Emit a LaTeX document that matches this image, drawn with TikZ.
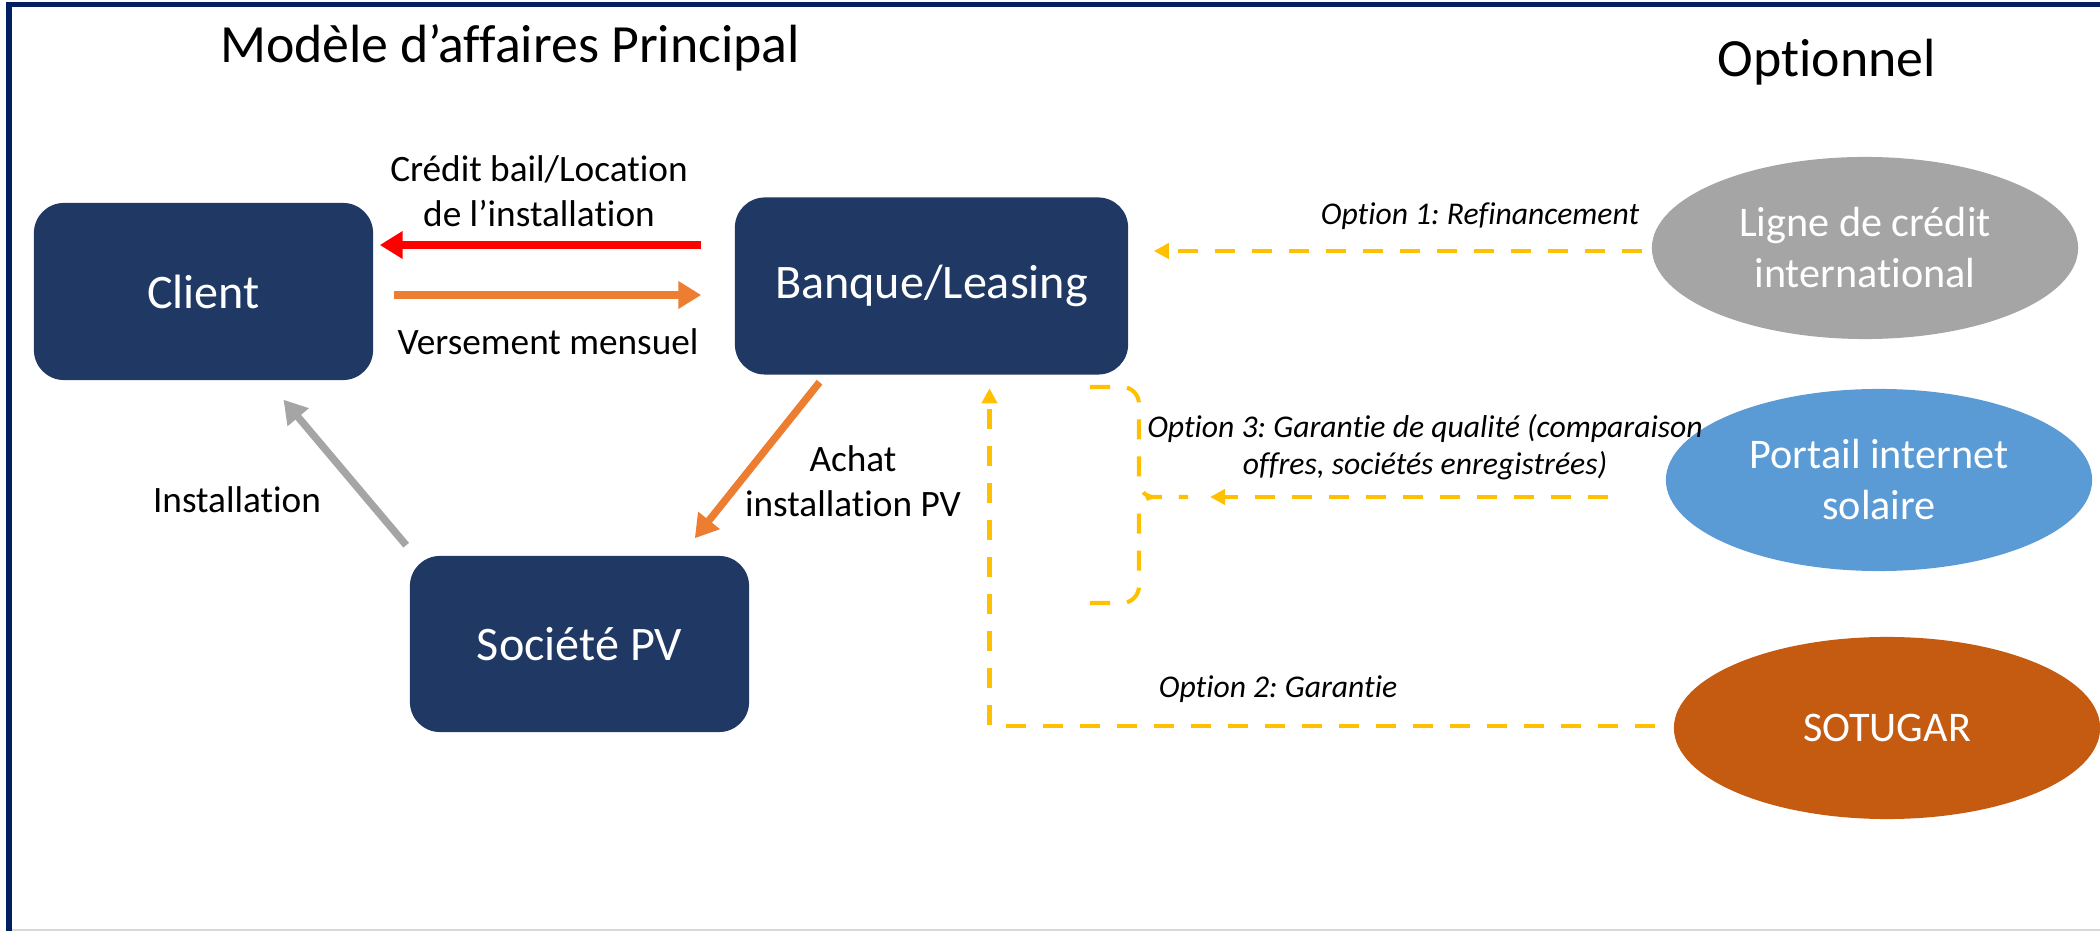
\documentclass[tikz,border=0pt]{standalone}
\usepackage{fontspec}
\setmainfont{Carlito}[Ligatures=NoCommon]
\usepackage{xcolor}
\usetikzlibrary{arrows.meta,calc,shapes.geometric}
\definecolor{boxblue}{HTML}{203864}
\definecolor{framenavy}{HTML}{002060}
\definecolor{credgray}{HTML}{A5A5A5}
\definecolor{portalblue}{HTML}{5B9BD5}
\definecolor{sotugarbrown}{HTML}{C55A11}
\definecolor{payorange}{HTML}{ED7D31}
\definecolor{optyellow}{HTML}{FFC000}
\frenchspacing

\begin{document}
\begin{tikzpicture}[>=Stealth, x=0.01cm, y=-0.01cm,
    box/.style={fill=boxblue, rounded corners=0.3cm, minimum height=1.77cm,
        text=white, font=\fontsize{13.7}{16}\selectfont},
    option/.style={ellipse, inner sep=0pt, minimum width=4.26cm, minimum height=1.82cm,
        text=white, align=center, font=\fontsize{12}{14.5}\selectfont},
    heading/.style={font=\fontsize{15.3}{18}\selectfont},
    lbl/.style={align=center, font=\fontsize{10.6}{12.8}\selectfont},
    optlbl/.style={align=center, font=\fontsize{9}{10.8}\selectfont\itshape},
    flow/.style={line width=2.3pt, -{Triangle[length=6.5pt, width=7.5pt]}},
    optline/.style={draw=optyellow, line width=1.15pt, dash pattern=on 0.2cm off 0.17cm},
    optarrow/.style={optline, -{Triangle[length=4.3pt, width=4.3pt]}}]
        \useasboundingbox (0,0) rectangle (2100,931);
        % frame
        \draw[framenavy, line width=1.4pt] (6,4.5) -- (2100,4.5);
        \draw[framenavy, line width=1.7pt] (9,2) -- (9,931);
        \draw[black!15, line width=0.6pt] (12,930) -- (2100,930);

        % titles
        \node[heading, anchor=base] (maintitle) at (510,63) {Modèle d’affaires Principal};
        \node[heading, anchor=base] (opttitle) at (1827,77) {Optionnel};

        % main model
        \node[box, minimum width=3.39cm] (client) at (203.5,291.5) {Client};
        \node[box, minimum width=3.93cm] (bank) at (931.5,286) {Banque/Leasing};
        \node[box, minimum width=3.39cm, minimum height=1.76cm] (pv) at (579.5,644) {Société PV};

        % optional partners
        \node[option, fill=credgray] (ligne) at (1865,248) {Ligne de crédit\\international};
        \node[option, fill=portalblue] (portail) at (1879,480) {Portail internet\\solaire};
        \node[option, fill=sotugarbrown] (sotugar) at (1887,728) {SOTUGAR};

        % flows
        \draw[flow, red] ($(bank.west)+(-33,-41)$) -- ($(client.east)+(6,-46.5)$);
        \draw[flow, payorange] ($(client.east)+(20,3.5)$) -- ($(bank.west)+(-33,9)$);
        \draw[flow, credgray, line width=2.1pt] ($(pv.north west)+(-3,-10)$) -- ($(client.south)+(80,19)$);
        \draw[flow, payorange, line width=2.1pt] ($(bank.south)+(-112,7)$) -- ($(pv.north east)+(-55,-17)$);

        \node[lbl, anchor=base] (creditlbl) at (539,227) {Crédit bail/Location\\de l’installation};
        \node[lbl, anchor=base] (versementlbl) at (548,355) {Versement mensuel};
        \node[lbl, anchor=base] (installlbl) at (237,513) {Installation};
        \node[lbl, anchor=base] (achatlbl) at (853,517) {Achat\\installation PV};

        % options
        \draw[optarrow] ($(ligne.west)+(-9,3)$) -- ($(bank.east)+(25,-35)$);
        \draw[optarrow] ($(sotugar.west)+(-18,-2)$) -| ($(bank.south)+(58,13)$);
        \coordinate (brace) at (1188,497);
        \draw[optline] (1090,387) -- (1122,387) to[out=0,in=90] (1139,404) -- (1139,482)
            to[out=-90,in=180] (1154,497) -- (brace);
        \draw[optline] (1090,603) -- (1122,603) to[out=0,in=-90] (1139,586) -- (1139,512)
            to[out=90,in=180] (1154,497);
        \draw[optarrow] ($(portail.west)+(-57,17)$) -- ($(brace)+(22,0)$);

        \node[optlbl, anchor=base] (opt1lbl) at (1480,225) {Option 1: Refinancement};
        \node[optlbl, anchor=base] (opt3lbl) at (1425,475) {Option 3: Garantie de qualité (comparaison\\offres, sociétés enregistrées)};
        \node[optlbl, anchor=base] (opt2lbl) at (1278,698) {Option 2: Garantie};
\end{tikzpicture}
\end{document}
